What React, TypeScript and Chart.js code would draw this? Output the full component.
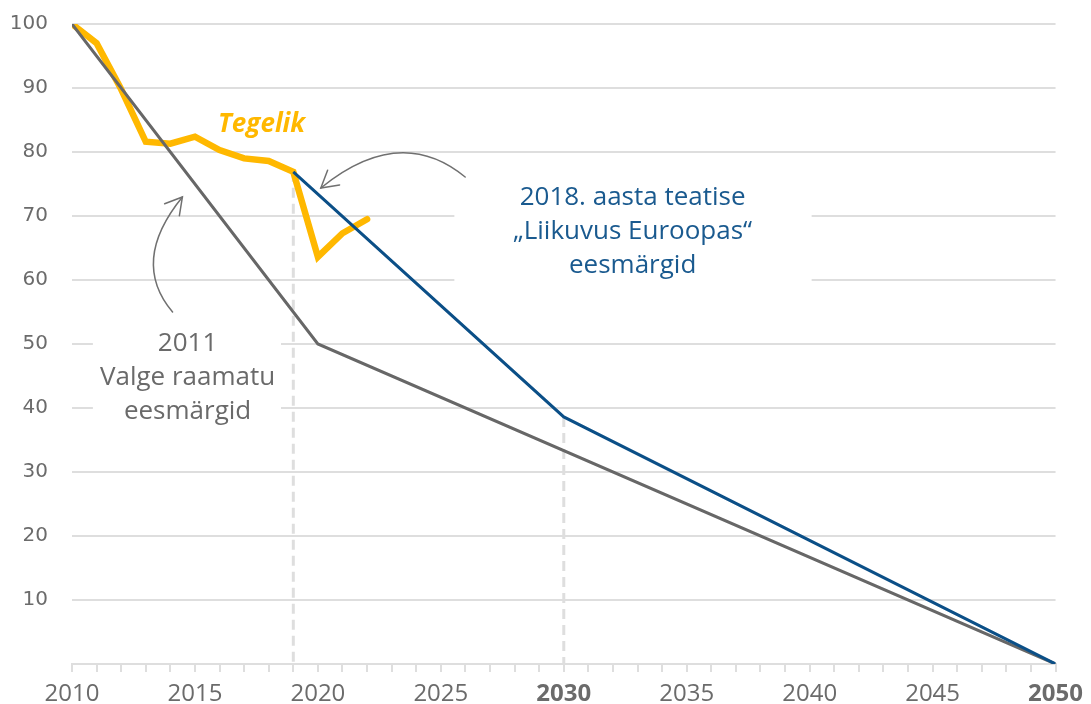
import React, { useEffect, useRef } from 'react';
import { Chart, registerables } from 'chart.js';

Chart.register(...registerables);

// ---- Data ----
const actualYears = [2010, 2011, 2012, 2013, 2014, 2015, 2016, 2017, 2018, 2019, 2020, 2021, 2022];
const actualValues = [100, 97.0, 89.8, 81.6, 81.3, 82.4, 80.3, 79.0, 78.6, 76.9, 63.6, 67.3, 69.5];

const whitePaperYears = [2010, 2020, 2050];
const whitePaperValues = [100, 50, 0];

const mobilityYears = [2019, 2030, 2050];
const mobilityValues = [76.9, 38.6, 0];

const xLabelYears = [2010, 2015, 2020, 2025, 2030, 2035, 2040, 2045, 2050];
const boldYears = [2030, 2050];
const yLabelValues = [10, 20, 30, 40, 50, 60, 70, 80, 90, 100];

const actualLabel = 'Tegelik';
const mobilityText = ['2018. aasta teatise', '\u201ELiikuvus Euroopas\u201C', 'eesmärgid'];
const whitePaperText = ['2011', 'Valge raamatu', 'eesmärgid'];

// ---- Styles / annotation placement (data coordinates) ----
const YELLOW = '#FFB800';
const BLUE = '#0B4F87';
const BLUE_TEXT = '#1A5A8F';
const GREY = '#676767';
const GREY_TEXT = '#6A6A6A';
const GRID = '#DEDEDE';
const ARROW = '#707070';

const zip = (xs: number[], ys: number[]) => xs.map((x, i) => ({ x, y: ys[i] }));

const maskBoxes = [
  { x0: 2010.85, x1: 2018.5, y0: 56.9, y1: 36.6 },
  { x0: 2025.55, x1: 2040.08, y0: 78.7, y1: 58.4 },
];

const textBlocks = [
  { lines: [actualLabel], x: 2017.71, y: [83.1], color: YELLOW, font: 'italic bold 26px "Open Sans"' },
  { lines: mobilityText, x: 2032.8, y: [71.7, 66.4, 61.1], color: BLUE_TEXT, font: '26px "Open Sans"' },
  { lines: whitePaperText, x: 2014.7, y: [48.9, 43.6, 38.3], color: GREY_TEXT, font: '26px "Open Sans"' },
];

const arrows = [
  { p0: { x: 2025.99, y: 76.09 }, c: { x: 2023.34, y: 84.45 }, p2: { x: 2020.12, y: 74.38 } },
  { p0: { x: 2014.09, y: 55.0 }, c: { x: 2012.35, y: 62.89 }, p2: { x: 2014.49, y: 72.97 } },
];

const annotationPlugin = {
  id: 'annotationsCustom',
  beforeDatasetsDraw(chart: any) {
    const { ctx, scales } = chart;
    const xs = scales.x;
    const ys = scales.y;
    ctx.save();
    ctx.fillStyle = '#ffffff';
    for (const b of maskBoxes) {
      const x0 = xs.getPixelForValue(b.x0);
      const x1 = xs.getPixelForValue(b.x1);
      const y0 = ys.getPixelForValue(b.y0);
      const y1 = ys.getPixelForValue(b.y1);
      ctx.fillRect(Math.min(x0, x1), Math.min(y0, y1), Math.abs(x1 - x0), Math.abs(y1 - y0));
    }
    ctx.restore();
  },
  afterDatasetsDraw(chart: any) {
    const { ctx, scales } = chart;
    const xs = scales.x;
    const ys = scales.y;
    ctx.save();
    ctx.textAlign = 'center';
    ctx.textBaseline = 'alphabetic';
    for (const t of textBlocks) {
      ctx.font = t.font;
      ctx.fillStyle = t.color;
      const px = xs.getPixelForValue(t.x);
      t.lines.forEach((line, i) => {
        ctx.fillText(line, px, ys.getPixelForValue(t.y[i]));
      });
    }
    ctx.strokeStyle = ARROW;
    ctx.lineWidth = 1.5;
    ctx.lineCap = 'round';
    for (const a of arrows) {
      const p0 = { x: xs.getPixelForValue(a.p0.x), y: ys.getPixelForValue(a.p0.y) };
      const c = { x: xs.getPixelForValue(a.c.x), y: ys.getPixelForValue(a.c.y) };
      const p2 = { x: xs.getPixelForValue(a.p2.x), y: ys.getPixelForValue(a.p2.y) };
      ctx.beginPath();
      ctx.moveTo(p0.x, p0.y);
      ctx.quadraticCurveTo(c.x, c.y, p2.x, p2.y);
      ctx.stroke();
      const ang = Math.atan2(p2.y - c.y, p2.x - c.x);
      const L = 19;
      const spread = Math.PI / 6;
      ctx.beginPath();
      ctx.moveTo(p2.x - L * Math.cos(ang - spread), p2.y - L * Math.sin(ang - spread));
      ctx.lineTo(p2.x, p2.y);
      ctx.lineTo(p2.x - L * Math.cos(ang + spread), p2.y - L * Math.sin(ang + spread));
      ctx.stroke();
    }
    ctx.restore();
  },
};

export default function App() {
  const canvasRef = useRef<HTMLCanvasElement | null>(null);

  useEffect(() => {
    if (!canvasRef.current) return;
    const chart = new Chart(canvasRef.current, {
      type: 'line',
      data: {
        datasets: [
          {
            label: 'Liikuvus Euroopas',
            data: zip(mobilityYears, mobilityValues),
            borderColor: BLUE,
            borderWidth: 3,
            pointRadius: 0,
            tension: 0,
          },
          {
            label: 'Valge raamat',
            data: zip(whitePaperYears, whitePaperValues),
            borderColor: GREY,
            borderWidth: 3,
            pointRadius: 0,
            tension: 0,
          },
          {
            label: actualLabel,
            data: zip(actualYears, actualValues),
            borderColor: YELLOW,
            borderWidth: 6.5,
            borderJoinStyle: 'miter',
            borderCapStyle: 'round',
            pointRadius: 0,
            tension: 0,
          },
          {
            label: 'drop2019',
            data: [
              { x: mobilityYears[0], y: mobilityValues[0] },
              { x: mobilityYears[0], y: 0 },
            ],
            borderColor: GRID,
            borderWidth: 3,
            borderDash: [10, 6],
            pointRadius: 0,
          },
          {
            label: 'drop2030',
            data: [
              { x: mobilityYears[1], y: mobilityValues[1] },
              { x: mobilityYears[1], y: 0 },
            ],
            borderColor: GRID,
            borderWidth: 3,
            borderDash: [10, 6],
            pointRadius: 0,
          },
        ],
      },
      options: {
        animation: false,
        responsive: true,
        maintainAspectRatio: false,
        layout: { padding: { left: 0, top: 24, right: 31, bottom: 0 } },
        plugins: { legend: { display: false }, tooltip: { enabled: false } },
        scales: {
          x: {
            type: 'linear',
            min: 2010,
            max: 2050,
            afterFit: (s: any) => {
              s.height = 40;
            },
            border: { display: true, color: GRID, width: 2 },
            grid: { drawOnChartArea: false, drawTicks: true, tickLength: 8, color: GRID, lineWidth: 2 },
            ticks: {
              stepSize: 1,
              autoSkip: false,
              maxRotation: 0,
              padding: 8,
              color: '#6B6B6B',
              callback: (v: any) => (xLabelYears.includes(Number(v)) ? String(v) : ''),
              font: (ctx: any) => ({
                family: '"Open Sans"',
                size: 24,
                weight: boldYears.includes(ctx.tick?.value) ? 'bold' : 'normal',
              }),
            },
          },
          y: {
            min: 0,
            max: 100,
            afterFit: (s: any) => {
              s.width = 72;
              s.paddingTop = 0;
              s.paddingBottom = 0;
            },
            border: { display: false },
            grid: { color: GRID, lineWidth: 2, drawTicks: false },
            ticks: {
              stepSize: 10,
              padding: 24,
              color: '#6B6B6B',
              font: { family: '"DejaVu Sans"', size: 20 },
              callback: (v: any) => (yLabelValues.includes(Number(v)) ? String(v) : ''),
            },
          },
        },
      },
      plugins: [annotationPlugin],
    });
    return () => chart.destroy();
  }, []);

  return (
    <div style={{ position: 'fixed', left: 0, top: 0, width: 1091, height: 704, background: '#fff' }}>
      <canvas ref={canvasRef} />
    </div>
  );
}
